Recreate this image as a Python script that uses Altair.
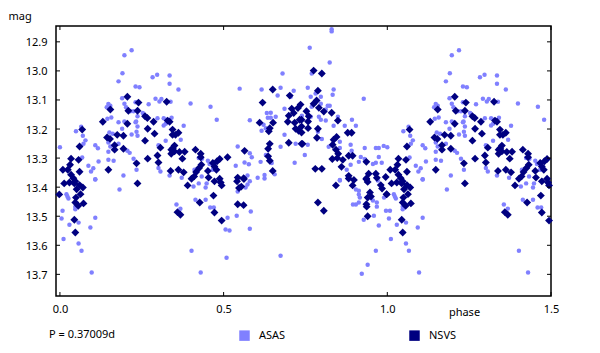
import altair as alt
import pandas as pd

asas_phase = [.000,.049,.065,.070,.078,.072,.068,.108,.116,.087,.102,.095,.118,.108,.143,.148,.154,.145,.157,.179,.191,.197,.219,.190,.197,.202,.215,.225,.231,.243,.231,.271,.253,.197,.179,.190,.233,.237,.231,.237,.219,.234,.237,.151,.161,.148,.154,.148,.148,.164,.179,.206,.213,.225,.234,.194,.297,.283,.335,.335,.362,.292,.304,.310,.338,.399,.460,.479,.378,.298,.317,.325,.317,.323,.341,.323,.369,.301,.301,.307,.335,.372,.424,.434,.411,.433,.452,.457,.467,.549,.537,.543,.564,.577,.580,.586,.580,.616,.616,.622,.629,.632,.644,.635,.644,.659,.665,.680,.674,.686,.714,.705,.686,.674,.720,.717,.629,.647,.613,.604,.625,.625,.732,
 .008,.005,.011,.020,.023,.026,.047,.047,.029,.057,.057,.066,.093,.108,.097,.108,.182,.356,.368,.408,.424,.402,.414,.430,.445,.448,.445,.459,.470,.509,.512,.506,.518,.540,.543,.567,.573,.580,.573,.583,.580,.674,.656,
 .763,.830,.830,.824,.769,.757,.766,.781,.797,.836,.833,.928,.797,.769,.818,.824,.812,.791,.797,.812,.766,.739,.849,.836,.870,.892,.904,.788,.800,.757,.748,.821,.855,.855,.888,.891,.888,.876,.931,.965,.974,.989,.919,.913,.931,.956,.965,.974,.983,.855,
 .855,.904,.913,.913,.916,.895,.904,.913,.928,.959,.974,.965,.940,.922,.956,.968,.968,.971,.990,.996]
asas_mag = [13.263,13.208,13.192,13.223,13.239,13.251,13.298,13.256,13.266,13.326,13.335,13.346,13.312,13.373,13.125,13.114,13.120,13.165,13.160,13.036,13.008,12.946,12.929,13.094,13.113,13.125,13.139,13.139,13.108,13.056,13.054,13.115,13.145,13.174,13.177,13.199,13.174,13.156,13.177,13.191,13.219,13.209,13.223,13.212,13.216,13.246,13.260,13.278,13.306,13.309,13.251,13.275,13.282,13.302,13.340,13.360,13.013,13.022,13.016,13.044,13.064,13.096,13.105,13.097,13.106,13.112,13.123,13.168,13.189,13.163,13.163,13.168,13.188,13.182,13.161,13.240,13.237,13.256,13.334,13.346,13.360,13.368,13.300,13.302,13.340,13.363,13.309,13.320,13.340,13.061,13.326,13.260,13.315,13.321,13.283,13.297,13.170,13.064,13.206,13.185,13.197,13.145,13.144,13.161,13.161,13.158,13.085,13.009,13.058,13.130,13.068,13.089,13.220,13.261,13.251,13.316,13.289,13.317,13.313,13.368,13.358,13.370,13.208,
 13.481,13.508,13.578,13.424,13.432,13.439,13.467,13.476,13.529,13.522,13.594,13.619,13.539,13.505,13.694,13.374,13.408,13.460,13.474,13.398,13.387,13.619,13.443,13.694,13.401,13.387,13.443,13.470,13.470,13.643,13.505,13.546,13.549,13.498,13.415,13.401,13.391,13.380,13.360,13.484,13.543,13.636,13.356,
 12.920,12.857,12.864,12.971,13.009,13.058,13.089,13.078,13.089,13.064,13.082,13.096,13.113,13.123,13.120,13.120,13.133,13.158,13.168,13.171,13.158,13.154,13.158,13.189,13.189,13.168,13.189,13.209,13.234,13.254,13.289,13.261,13.244,13.265,13.254,13.275,13.323,13.340,13.265,13.265,13.265,13.258,13.296,13.313,13.303,13.320,13.316,13.296,13.316,13.375,
 13.377,13.408,13.412,13.425,13.436,13.460,13.460,13.453,13.512,13.498,13.532,13.619,13.667,13.698,13.446,13.453,13.467,13.377,13.436,13.481]

nsvs_phase = [.009,.024,.031,.034,.057,.060,.060,.068,.034,.041,.131,.144,.153,.154,.167,.167,.194,.175,.194,.148,.206,.209,.237,.240,.206,.234,.260,.267,.268,.289,.260,.268,.286,.298,.301,.307,.326,.329,.335,.344,.344,.362,.353,.338,.362,.378,.374,.350,.340,.345,.340,.350,.365,.381,.414,.430,.430,.432,.425,.416,.410,.452,.454,.467,.472,.478,.480,.488,.512,.488,.402,.543,.561,.564,.610,.619,.650,.651,.641,.638,.636,.641,.636,.641,.650,.696,.702,.699,.708,.714,.717,.720,.699,.727,.732,.729,
 -.002,.013,.029,.044,.047,.051,.070,.060,.063,.049,.047,.056,.072,.044,.047,.237,.390,.427,.469,.472,.491,.494,.472,.494,.359,.368,.541,.547,.554,.562,.561,.543,
 .735,.753,.760,.738,.758,.738,.758,.738,.738,.741,.775,.800,.788,.784,.775,.791,.806,.830,.788,.785,.849,.879,.891,.845,.836,.833,.843,.850,.832,.847,.864,.860,.780,.800,.882,.894,.882,.898,.936,.943,.936,.965,.968,.995,
 .788,.806,.843,.894,.936,.940,.980,.984,.947,.940,.950,.936,.937,.940,.998,.882]
nsvs_mag = [13.340,13.340,13.323,13.302,13.306,13.347,13.260,13.202,13.357,13.369,13.175,13.229,13.234,13.133,13.256,13.271,13.223,13.220,13.268,13.340,13.089,13.137,13.137,13.109,13.182,13.318,13.156,13.162,13.199,13.216,13.240,13.302,13.175,13.291,13.315,13.264,13.106,13.171,13.175,13.202,13.220,13.213,13.220,13.344,13.340,13.349,13.302,13.257,13.271,13.266,13.285,13.277,13.279,13.278,13.271,13.285,13.297,13.323,13.334,13.348,13.363,13.344,13.367,13.317,13.329,13.340,13.311,13.303,13.297,13.371,13.371,13.367,13.369,13.275,13.178,13.109,13.064,13.178,13.197,13.208,13.268,13.251,13.294,13.309,13.344,13.175,13.085,13.154,13.130,13.145,13.178,13.199,13.247,13.128,13.168,13.206,
 13.425,13.387,13.384,13.387,13.380,13.407,13.401,13.393,13.424,13.436,13.453,13.464,13.456,13.512,13.556,13.387,13.394,13.453,13.429,13.380,13.384,13.394,13.487,13.515,13.486,13.495,13.380,13.403,13.398,13.372,13.462,13.459,
 13.116,13.139,13.156,13.168,13.174,13.191,13.197,13.212,13.251,13.251,12.999,13.009,13.068,13.102,13.113,13.127,13.140,13.144,13.199,13.230,13.171,13.213,13.213,13.227,13.237,13.254,13.271,13.285,13.303,13.300,13.306,13.330,13.337,13.337,13.292,13.292,13.361,13.375,13.313,13.354,13.373,13.354,13.368,13.365,
 13.453,13.481,13.394,13.394,13.370,13.382,13.393,13.405,13.418,13.436,13.432,13.459,13.467,13.500,13.424,13.370]

x_ticks = [0.0, 0.5, 1.0, 1.5]
y_ticks = [12.9, 13.0, 13.1, 13.2, 13.3, 13.4, 13.5, 13.6, 13.7]
FONT = "Noto Sans"
W, H = 495, 270


def frame(name, phases, mags):
    # the light curve repeats: phases up to 0.5 are drawn again one cycle later
    rows = [(p, m) for p, m in zip(phases, mags)]
    rows += [(p + 1, m) for p, m in zip(phases, mags) if p <= 0.5]
    d = pd.DataFrame(rows, columns=["phase", "mag"])
    d["series"] = name
    return d


xs = alt.Scale(domain=[-0.012, 1.5], nice=False, zero=False)
ys = alt.Scale(domain=[13.7745, 12.8455], nice=False, zero=False)
color = alt.Scale(domain=["ASAS", "NSVS"], range=["#8080ff", "#000080"])

x_axis = alt.Axis(values=x_ticks, format=".1f", grid=False, domain=False, tickSize=0,
                  labelPadding=7, labelFlush=False, labelOverlap=False,
                  title="phase", titleX=408, titleY=10, titleFontWeight="normal",
                  titleFontSize=11, titleFont=FONT)
y_axis = alt.Axis(values=y_ticks, format=".1f", grid=False, domain=False, tickSize=0,
                  labelPadding=9, labelOverlap=False, labelOffset=1, title="mag", titleAngle=0,
                  titleX=-48, titleY=-10, titleFontWeight="normal", titleAlign="left",
                  titleBaseline="middle", titleFontSize=11, titleFont=FONT)
legend = alt.Legend(title=None, orient="none", legendX=183, legendY=304, direction="horizontal",
                    symbolType="square", symbolSize=110, symbolOpacity=1, symbolStrokeWidth=0,
                    columnPadding=123, labelFontSize=11, labelFont=FONT, labelOffset=9,
                    labelColor="black")

asas = alt.Chart(frame("ASAS", asas_phase, asas_mag)).mark_point(
    filled=True, shape="circle", size=20, opacity=1).encode(
    x=alt.X("phase:Q", scale=xs, axis=x_axis),
    y=alt.Y("mag:Q", scale=ys, axis=y_axis),
    color=alt.Color("series:N", scale=color, legend=legend),
)
nsvs = alt.Chart(frame("NSVS", nsvs_phase, nsvs_mag)).mark_point(
    filled=True, shape="diamond", size=62, opacity=1).encode(
    x=alt.X("phase:Q", scale=xs, axis=x_axis),
    y=alt.Y("mag:Q", scale=ys, axis=y_axis),
    color=alt.Color("series:N", scale=color, legend=legend),
)

xt = pd.DataFrame({"v": x_ticks})
yt = pd.DataFrame({"v": y_ticks})
tick_len = 4
bottom = alt.Chart(xt).mark_rule(color="black").encode(
    x=alt.X("v:Q", scale=xs, axis=x_axis), y=alt.value(H - tick_len), y2=alt.value(H))
top = alt.Chart(xt).mark_rule(color="black").encode(
    x=alt.X("v:Q", scale=xs, axis=x_axis), y=alt.value(0), y2=alt.value(tick_len))
left = alt.Chart(yt).mark_rule(color="black").encode(
    y=alt.Y("v:Q", scale=ys, axis=y_axis), x=alt.value(0), x2=alt.value(tick_len))
right = alt.Chart(yt).mark_rule(color="black").encode(
    y=alt.Y("v:Q", scale=ys, axis=y_axis), x=alt.value(W - tick_len), x2=alt.value(W))

note = alt.Chart(pd.DataFrame({"t": ["P = 0.37009d"]})).mark_text(
    align="left", baseline="middle", font=FONT, fontSize=11, color="black").encode(
    text="t:N", x=alt.value(-7), y=alt.value(309))

chart = alt.layer(asas, nsvs, bottom, top, left, right, note).properties(
    width=W, height=H,
    padding={"left": 48, "top": 18, "right": 40, "bottom": 49},
    autosize=alt.AutoSizeParams(type="none"),
    background="white",
).configure_view(stroke="black", strokeWidth=1.5).configure_axis(
    labelFont=FONT, labelFontSize=11, labelColor="black", titleColor="black"
)

chart.save("out.html", embed_options={"renderer": "svg", "actions": False})
